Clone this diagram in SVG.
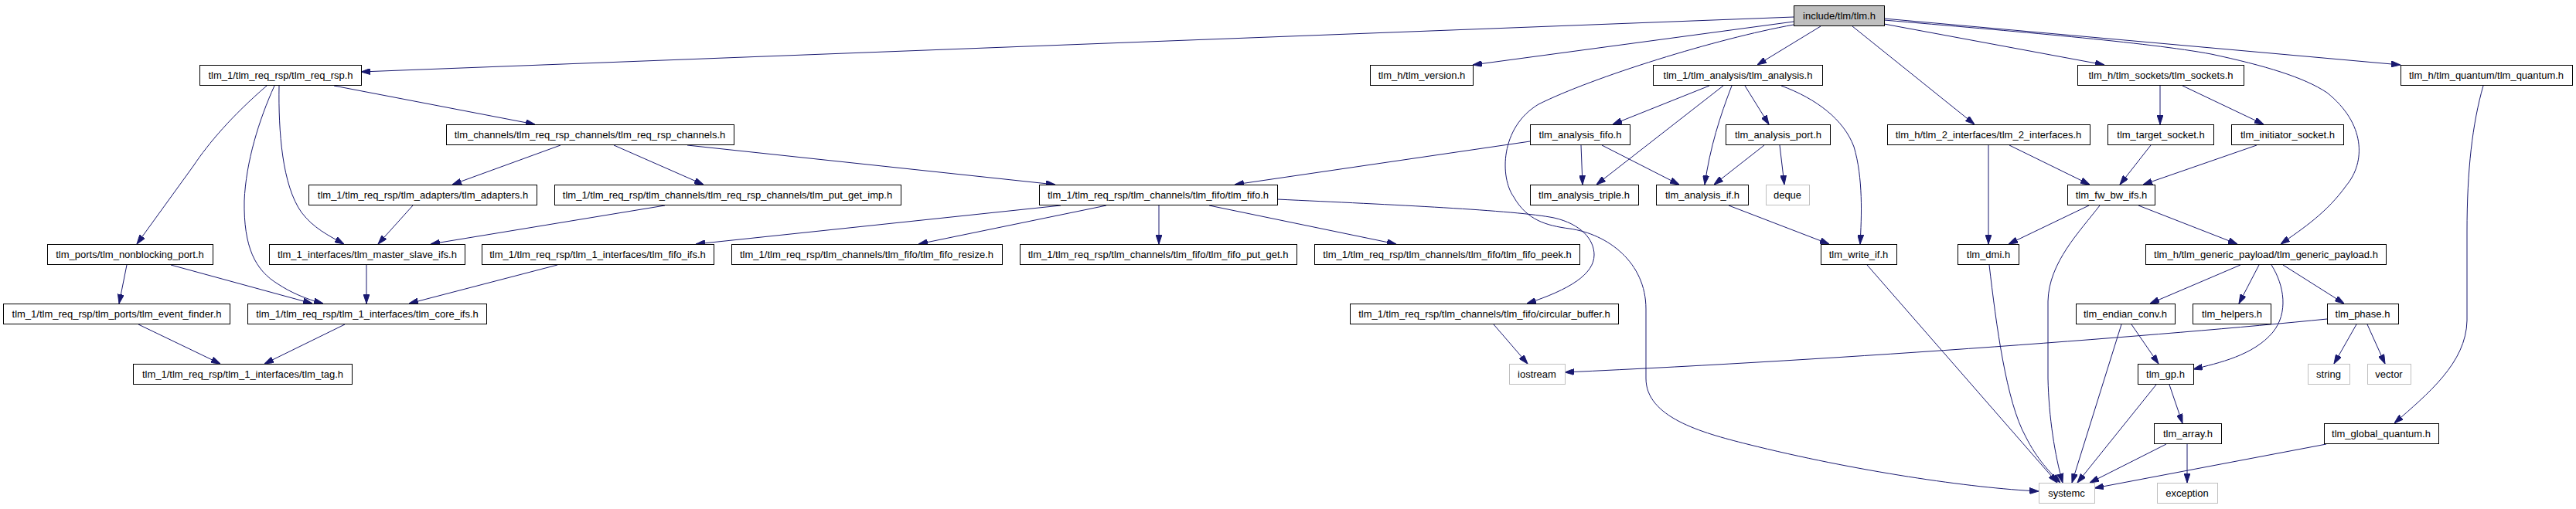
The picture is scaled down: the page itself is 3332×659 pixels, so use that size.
<svg xmlns="http://www.w3.org/2000/svg" width="3332" height="659" viewBox="0 0 3332 659">
<style>
.n rect{fill:#fff;stroke:#000;stroke-width:1}
.g rect{stroke:#bfbfbf}
.r rect{fill:#bfbfbf}
text{font-family:"Liberation Sans",Arial,sans-serif;font-size:13px;text-anchor:middle;fill:#000}
#edges path{fill:none;stroke:#191970;stroke-width:1;marker-end:url(#ah)}
</style>
<defs>
<marker id="ah" markerWidth="12" markerHeight="8" refX="12" refY="4" orient="auto" markerUnits="userSpaceOnUse">
<path d="M0,0 L12,4 L0,8 z" fill="#191970" stroke="#191970" stroke-width="1"/>
</marker>
</defs>
<rect width="3332" height="659" fill="#fff"/>
<g id="edges">
<path d="M2320,22 L467,93"/>
<path d="M2320,28 L1905,84"/>
<path d="M2320,32 C2220,50 2060,100 1990,135 C1940,165 1940,230 1958,255 C1975,285 2000,292 2030,296 C2080,303 2129,340 2129,400 L2129,490 C2129,540 2200,560 2260,575 C2400,610 2550,632 2637,636"/>
<path d="M2355,34 L2273,84"/>
<path d="M2396,34 L2554,161"/>
<path d="M2437,31 L2722,84"/>
<path d="M2437,24 L3105,84"/>
<path d="M2437,26 C2600,40 2780,55 2860,70 C2930,85 2980,100 3010,120 C3060,160 3060,210 3035,240 C3010,275 2980,295 2950,316"/>
<path d="M2211,111 L2086,161"/>
<path d="M2229,111 L2065,239"/>
<path d="M2240,111 C2225,150 2212,190 2205,239"/>
<path d="M2257,111 L2288,161"/>
<path d="M2304,111 C2350,128 2385,155 2398,190 C2410,230 2408,280 2406,316"/>
<path d="M2282,188 L2217,239"/>
<path d="M2302,188 L2308,239"/>
<path d="M2236,266 L2366,316"/>
<path d="M1979,183 L1597,239"/>
<path d="M2045,188 L2047,239"/>
<path d="M2072,188 L2172,239"/>
<path d="M432,111 L692,161"/>
<path d="M345,111 C300,150 270,185 250,215 L177,316"/>
<path d="M355,111 C335,155 318,210 316,260 C315,320 330,350 360,368 C375,378 395,387 418,393"/>
<path d="M361,111 C360,170 365,240 390,275 C405,295 425,305 445,316"/>
<path d="M164,343 L154,393"/>
<path d="M221,343 L404,393"/>
<path d="M474,343 L474,393"/>
<path d="M721,343 L529,393"/>
<path d="M860,266 L557,316"/>
<path d="M534,266 L489,316"/>
<path d="M725,188 L585,239"/>
<path d="M794,188 L910,239"/>
<path d="M889,188 L1365,239"/>
<path d="M1372,266 L900,316"/>
<path d="M1431,266 L1188,316"/>
<path d="M1499,266 L1499,316"/>
<path d="M1564,266 L1806,316"/>
<path d="M1652,258 C1800,265 1960,272 2010,282 C2045,290 2062,310 2062,330 C2062,355 2030,375 1975,393"/>
<path d="M1932,420 L1976,471"/>
<path d="M3010,413 C2800,434 2400,465 2024,482"/>
<path d="M3048,420 L3019,471"/>
<path d="M3062,420 L3085,471"/>
<path d="M2794,111 L2794,161"/>
<path d="M2823,111 L2928,161"/>
<path d="M2782,188 L2742,239"/>
<path d="M2919,188 L2772,239"/>
<path d="M2572,188 L2572,316"/>
<path d="M2599,188 L2703,239"/>
<path d="M2702,266 L2598,316"/>
<path d="M2716,266 C2690,300 2650,340 2649,390 L2649,490 C2650,540 2658,590 2668,625"/>
<path d="M2766,266 L2894,316"/>
<path d="M2415,343 L2661,625"/>
<path d="M2573,343 C2582,420 2595,520 2620,565 C2635,595 2652,612 2665,625"/>
<path d="M2898,343 L2781,393"/>
<path d="M2922,343 L2896,393"/>
<path d="M2938,343 C2955,370 2960,405 2940,430 C2915,460 2870,470 2837,478"/>
<path d="M2953,343 L3032,393"/>
<path d="M2757,420 L2792,471"/>
<path d="M2744,420 L2680,625"/>
<path d="M2806,498 L2823,548"/>
<path d="M2789,498 L2687,625"/>
<path d="M2829,575 L2829,625"/>
<path d="M2802,575 L2703,625"/>
<path d="M3009,575 L2709,632"/>
<path d="M3212,111 C3198,160 3191,220 3191,300 L3191,415 C3190,470 3140,510 3097,548"/>
<path d="M179,420 L285,471"/>
<path d="M446,420 L342,471"/>
</g>
<g id="n0" class="n r"><rect x="2320.5" y="7.5" width="117" height="26"/><text x="2379" y="25">include/tlm/tlm.h</text></g>
<g id="n1" class="n"><rect x="258.5" y="84.5" width="209" height="26"/><text x="363" y="102">tlm_1/tlm_req_rsp/tlm_req_rsp.h</text></g>
<g id="n2" class="n"><rect x="1772.5" y="84.5" width="133" height="26"/><text x="1839" y="102">tlm_h/tlm_version.h</text></g>
<g id="n3" class="n"><rect x="2138.5" y="84.5" width="219" height="26"/><text x="2248" y="102">tlm_1/tlm_analysis/tlm_analysis.h</text></g>
<g id="n4" class="n"><rect x="2687.5" y="84.5" width="215" height="26"/><text x="2795" y="102">tlm_h/tlm_sockets/tlm_sockets.h</text></g>
<g id="n5" class="n"><rect x="3105.5" y="84.5" width="222" height="26"/><text x="3216" y="102">tlm_h/tlm_quantum/tlm_quantum.h</text></g>
<g id="n6" class="n"><rect x="577.5" y="161.5" width="372" height="26"/><text x="763" y="179">tlm_channels/tlm_req_rsp_channels/tlm_req_rsp_channels.h</text></g>
<g id="n7" class="n"><rect x="1979.5" y="161.5" width="129" height="26"/><text x="2044" y="179">tlm_analysis_fifo.h</text></g>
<g id="n8" class="n"><rect x="2232.5" y="161.5" width="135" height="26"/><text x="2300" y="179">tlm_analysis_port.h</text></g>
<g id="n9" class="n"><rect x="2441.5" y="161.5" width="262" height="26"/><text x="2572" y="179">tlm_h/tlm_2_interfaces/tlm_2_interfaces.h</text></g>
<g id="n10" class="n"><rect x="2726.5" y="161.5" width="137" height="26"/><text x="2795" y="179">tlm_target_socket.h</text></g>
<g id="n11" class="n"><rect x="2886.5" y="161.5" width="145" height="26"/><text x="2959" y="179">tlm_initiator_socket.h</text></g>
<g id="n12" class="n"><rect x="399.5" y="239.5" width="295" height="26"/><text x="547" y="257">tlm_1/tlm_req_rsp/tlm_adapters/tlm_adapters.h</text></g>
<g id="n13" class="n"><rect x="717.5" y="239.5" width="448" height="26"/><text x="941" y="257">tlm_1/tlm_req_rsp/tlm_channels/tlm_req_rsp_channels/tlm_put_get_imp.h</text></g>
<g id="n14" class="n"><rect x="1344.5" y="239.5" width="308" height="26"/><text x="1498" y="257">tlm_1/tlm_req_rsp/tlm_channels/tlm_fifo/tlm_fifo.h</text></g>
<g id="n15" class="n"><rect x="1979.5" y="239.5" width="140" height="26"/><text x="2049" y="257">tlm_analysis_triple.h</text></g>
<g id="n16" class="n"><rect x="2142.5" y="239.5" width="119" height="26"/><text x="2202" y="257">tlm_analysis_if.h</text></g>
<g id="n17" class="n g"><rect x="2284.5" y="239.5" width="56" height="26"/><text x="2312" y="257">deque</text></g>
<g id="n18" class="n"><rect x="2674.5" y="239.5" width="113" height="26"/><text x="2731" y="257">tlm_fw_bw_ifs.h</text></g>
<g id="n19" class="n"><rect x="61.5" y="316.5" width="214" height="26"/><text x="168" y="334">tlm_ports/tlm_nonblocking_port.h</text></g>
<g id="n20" class="n"><rect x="348.5" y="316.5" width="253" height="26"/><text x="475" y="334">tlm_1_interfaces/tlm_master_slave_ifs.h</text></g>
<g id="n21" class="n"><rect x="623.5" y="316.5" width="300" height="26"/><text x="773" y="334">tlm_1/tlm_req_rsp/tlm_1_interfaces/tlm_fifo_ifs.h</text></g>
<g id="n22" class="n"><rect x="946.5" y="316.5" width="350" height="26"/><text x="1121" y="334">tlm_1/tlm_req_rsp/tlm_channels/tlm_fifo/tlm_fifo_resize.h</text></g>
<g id="n23" class="n"><rect x="1319.5" y="316.5" width="358" height="26"/><text x="1498" y="334">tlm_1/tlm_req_rsp/tlm_channels/tlm_fifo/tlm_fifo_put_get.h</text></g>
<g id="n24" class="n"><rect x="1700.5" y="316.5" width="343" height="26"/><text x="1872" y="334">tlm_1/tlm_req_rsp/tlm_channels/tlm_fifo/tlm_fifo_peek.h</text></g>
<g id="n25" class="n"><rect x="2355.5" y="316.5" width="98" height="26"/><text x="2404" y="334">tlm_write_if.h</text></g>
<g id="n26" class="n"><rect x="2532.5" y="316.5" width="79" height="26"/><text x="2572" y="334">tlm_dmi.h</text></g>
<g id="n27" class="n"><rect x="2775.5" y="316.5" width="311" height="26"/><text x="2931" y="334">tlm_h/tlm_generic_payload/tlm_generic_payload.h</text></g>
<g id="n28" class="n"><rect x="4.5" y="393.5" width="293" height="26"/><text x="151" y="411">tlm_1/tlm_req_rsp/tlm_ports/tlm_event_finder.h</text></g>
<g id="n29" class="n"><rect x="320.5" y="393.5" width="309" height="26"/><text x="475" y="411">tlm_1/tlm_req_rsp/tlm_1_interfaces/tlm_core_ifs.h</text></g>
<g id="n30" class="n"><rect x="1746.5" y="393.5" width="347" height="26"/><text x="1920" y="411">tlm_1/tlm_req_rsp/tlm_channels/tlm_fifo/circular_buffer.h</text></g>
<g id="n31" class="n"><rect x="2685.5" y="393.5" width="128" height="26"/><text x="2749" y="411">tlm_endian_conv.h</text></g>
<g id="n32" class="n"><rect x="2836.5" y="393.5" width="101" height="26"/><text x="2887" y="411">tlm_helpers.h</text></g>
<g id="n33" class="n"><rect x="3010.5" y="393.5" width="92" height="26"/><text x="3056" y="411">tlm_phase.h</text></g>
<g id="n34" class="n"><rect x="172.5" y="471.5" width="283" height="26"/><text x="314" y="489">tlm_1/tlm_req_rsp/tlm_1_interfaces/tlm_tag.h</text></g>
<g id="n35" class="n g"><rect x="1952.5" y="471.5" width="72" height="26"/><text x="1988" y="489">iostream</text></g>
<g id="n36" class="n"><rect x="2765.5" y="471.5" width="72" height="26"/><text x="2801" y="489">tlm_gp.h</text></g>
<g id="n37" class="n g"><rect x="2985.5" y="471.5" width="54" height="26"/><text x="3012" y="489">string</text></g>
<g id="n38" class="n g"><rect x="3062.5" y="471.5" width="56" height="26"/><text x="3090" y="489">vector</text></g>
<g id="n39" class="n"><rect x="2786.5" y="548.5" width="87" height="26"/><text x="2830" y="566">tlm_array.h</text></g>
<g id="n40" class="n"><rect x="3006.5" y="548.5" width="148" height="26"/><text x="3080" y="566">tlm_global_quantum.h</text></g>
<g id="n41" class="n g"><rect x="2637.5" y="625.5" width="72" height="26"/><text x="2673" y="643">systemc</text></g>
<g id="n42" class="n g"><rect x="2790.5" y="625.5" width="78" height="26"/><text x="2829" y="643">exception</text></g>
</svg>
